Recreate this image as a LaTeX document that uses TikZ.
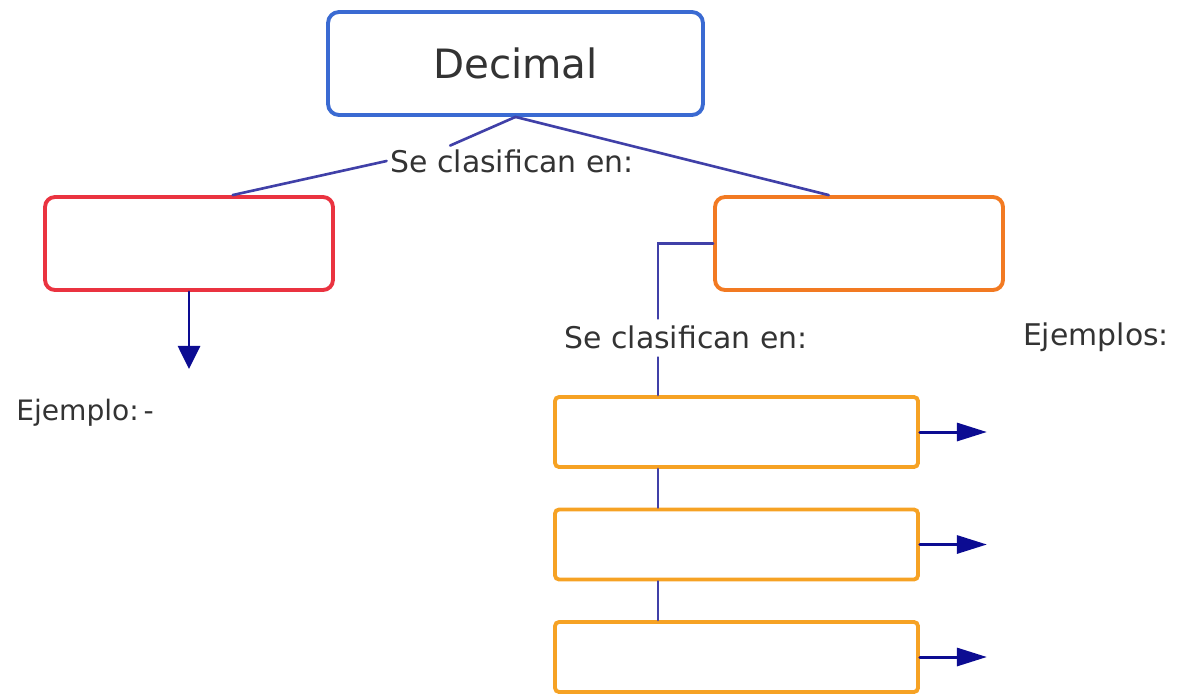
\documentclass[tikz,border=0pt]{standalone}
\usepackage{fontspec}
\setmainfont{DejaVu Sans}
\usetikzlibrary{arrows.meta}
\definecolor{azul}{HTML}{3A6AD2}
\definecolor{rojo}{HTML}{EA3340}
\definecolor{naranja}{HTML}{F27A22}
\definecolor{ambar}{HTML}{F6A224}
\definecolor{enlace}{HTML}{4040A8}
\definecolor{flecha}{HTML}{0C0C92}
\definecolor{texto}{HTML}{333333}
\begin{document}
\begin{tikzpicture}[x=0.02cm,y=-0.02cm,line cap=round,
	caja/.style={draw,line width=2.2pt,rounded corners=0.22cm,inner sep=0pt,text=texto},
	rotulo/.style={font=\fontsize{17}{20}\selectfont,text=texto,inner sep=2pt},
	linea/.style={draw=enlace,line width=1.5pt},
	punta/.style={draw=flecha,line width=1.7pt}]
	\useasboundingbox (0,0) rectangle (1179,693);
	\node[caja,draw=azul,minimum width=7.5cm,minimum height=2.06cm,font=\fontsize{23}{27}\selectfont] (dec) at (515.5,63.5) {Decimal};
	\node[caja,draw=rojo,minimum width=5.76cm,minimum height=1.86cm,rounded corners=0.2cm] (roj) at (189,243.5) {};
	\node[caja,draw=naranja,minimum width=5.76cm,minimum height=1.86cm,rounded corners=0.2cm] (nar) at (859,243.5) {};
	\foreach \i in {1,2,3}
		\node[caja,draw=ambar,minimum width=7.26cm,minimum height=1.4cm,rounded corners=0.08cm] (c\i) at (736.5,319.5+\i*112.5) {};
	\node[rotulo] (se1) at (512,161) {Se clasifican en:};
	\node[rotulo] (se2) at (686,337) {Se clasifican en:};
	\node[rotulo] (ejs) at (1096,337) {Ejemplos:};
	\node[rotulo,font=\fontsize{16}{20}\selectfont] (ej) at (85,413) {Ejemplo:\,-};
	\coordinate (eje) at (658,0);
	\draw[linea] (dec.south) -- (se1.166);
	\draw[linea] (se1.west) -- (roj.48);
	\draw[linea] (dec.south) -- (nar.122);
	\draw[linea] (nar.west) -| ([yshift=0.06cm]eje |- se2.north);
	\draw[linea] ([yshift=-0.1cm]eje |- se2.south) -- (eje |- c1.north);
	\foreach \i/\j in {1/2,2/3}
		\draw[linea] (eje |- c\i.south) -- (eje |- c\j.north);
	\path (roj.south) ++(0,77) coordinate (r1);
	\draw[punta,-{Triangle[length=0.46cm,width=0.44cm]}] (roj.south) -- (r1);
	\foreach \i in {1,2,3}{
		\path (c\i.east) ++(67,0) coordinate (f\i);
		\draw[punta,-{Triangle[length=0.6cm,width=0.36cm]}] (c\i.east) -- (f\i);}
\end{tikzpicture}
\end{document}
